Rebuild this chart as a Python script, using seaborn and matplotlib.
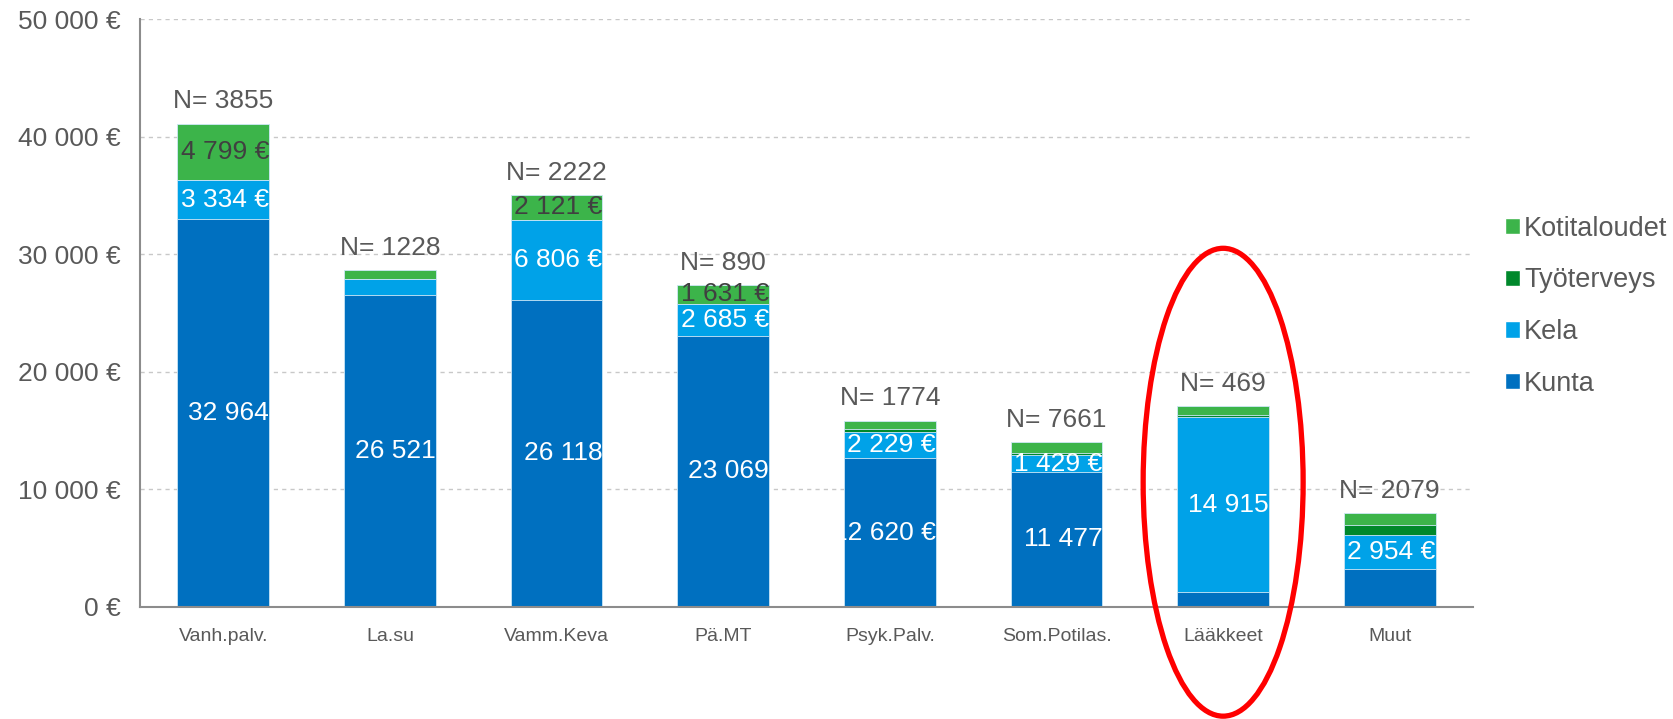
import matplotlib
matplotlib.use("Agg")
import matplotlib.pyplot as plt
from matplotlib.patches import Patch, Ellipse
import seaborn as sns
import numpy as np

categories = ['Vanh.palv.', 'La.su', 'Vamm.Keva', 'Pä.MT', 'Psyk.Palv.',
              'Som.Potilas.', 'Lääkkeet', 'Muut']
kunta = [32964, 26521, 26118, 23069, 12620, 11477, 1220, 3180]
kela = [3334, 1360, 6806, 2685, 2229, 1429, 14915, 2954]
tyoterveys = [0, 0, 0, 0, 250, 200, 150, 850]
kotitaloudet = [4799, 730, 2121, 1631, 750, 900, 800, 1000]
n_counts = [3855, 1228, 2222, 890, 1774, 7661, 469, 2079]

# which segment labels are shown in the original
kunta_lab = [True, True, True, True, True, True, False, False]
kunta_euro = [False, False, False, False, True, False, False, False]
kela_lab = [True, False, True, True, True, True, True, True]
kela_euro = [True, True, True, True, True, True, False, True]
koti_lab = [True, False, True, True, False, False, False, False]

C_KUNTA = '#0070C0'
C_KELA = '#00A2E8'
C_TYO = '#00882B'
C_KOTI = '#3CB44A'
GRAY = '#595959'
FS = 19

sns.set_theme(style='white')
plt.rcParams['font.family'] = ['Liberation Sans', 'DejaVu Sans']

fig = plt.figure(figsize=(16.74, 7.19), dpi=100)
ax = fig.add_axes([0.0836, 0.156, 0.7964, 0.8175])

k = np.array(kunta, float)
ke = np.array(kela, float)
t = np.array(tyoterveys, float)
ko = np.array(kotitaloudet, float)
c1 = k
c2 = k + ke
c3 = c2 + t
c4 = c3 + ko

BW = 0.55
bars = {}
for name, vals, col in [('koti', c4, C_KOTI), ('tyo', c3, C_TYO),
                        ('kela', c2, C_KELA), ('kunta', c1, C_KUNTA)]:
    sns.barplot(x=categories, y=vals, color=col, saturation=1, width=BW,
                errorbar=None, edgecolor='#CFE8F7', linewidth=0.6, ax=ax)
    bars[name] = list(ax.containers[-1].patches)

ax.set_xlim(-0.5, 7.5)
ax.set_ylim(0, 50000)
ax.set_yticks(np.arange(0, 50001, 10000))
ax.set_yticklabels([(f"{int(v):,}".replace(',', ' ') + ' €') for v in np.arange(0, 50001, 10000)])
ax.set_axisbelow(True)
ax.yaxis.grid(True, color='#C8C8C8', linestyle=(0, (3, 3)), linewidth=1)
ax.xaxis.grid(False)
for s in ['top', 'right']:
    ax.spines[s].set_visible(False)
for s in ['left', 'bottom']:
    ax.spines[s].set_color('#8C8C8C')
    ax.spines[s].set_linewidth(1.5)
ax.tick_params(axis='y', length=0, pad=14, labelsize=FS, labelcolor=GRAY)
ax.tick_params(axis='x', length=0, pad=15, labelsize=14, labelcolor=GRAY)
ax.set_xlabel('')
ax.set_ylabel('')


def fmt(v, euro=True):
    s = f"{int(round(v)):,}".replace(',', ' ')
    return s + ' €' if euro else s


for i in range(len(categories)):
    xr = i + BW / 2
    ax.annotate(f"N= {n_counts[i]}", (i, c4[i]), xytext=(0, 16),
                textcoords='offset points', ha='center', va='center',
                fontsize=FS, color=GRAY)
    if kunta_lab[i]:
        tx = ax.text(xr, k[i] / 2, fmt(k[i], kunta_euro[i]), ha='right', va='center',
                     fontsize=FS, color='white')
        tx.set_clip_path(bars['kunta'][i])
    if kela_lab[i]:
        tx = ax.text(xr, k[i] + ke[i] / 2, fmt(ke[i], kela_euro[i]), ha='right',
                     va='center', fontsize=FS, color='white')
        tx.set_clip_path(bars['kela'][i])
    if koti_lab[i]:
        tx = ax.text(xr, c3[i] + ko[i] / 2, fmt(ko[i]), ha='right', va='center',
                     fontsize=FS, color='#404040')
        tx.set_clip_path(bars['koti'][i])

# highlight ellipse around Lääkkeet
ell = Ellipse((6, 10600), width=0.96, height=39800, fill=False,
              edgecolor='#FF0000', linewidth=3.8, clip_on=False, zorder=5)
ax.add_patch(ell)

handles = [Patch(facecolor=C_KOTI, label='Kotitaloudet'),
           Patch(facecolor=C_TYO, label='Työterveys'),
           Patch(facecolor=C_KELA, label='Kela'),
           Patch(facecolor=C_KUNTA, label='Kunta')]
leg = fig.legend(handles=handles, loc='center left', bbox_to_anchor=(0.899, 0.574),
                 frameon=False, fontsize=19.5, labelspacing=0.95, handlelength=0.55,
                 handleheight=0.55, handletextpad=0.15, borderpad=0, borderaxespad=0)
for tx in leg.get_texts():
    tx.set_color(GRAY)

fig.savefig('out.png', dpi=100)
